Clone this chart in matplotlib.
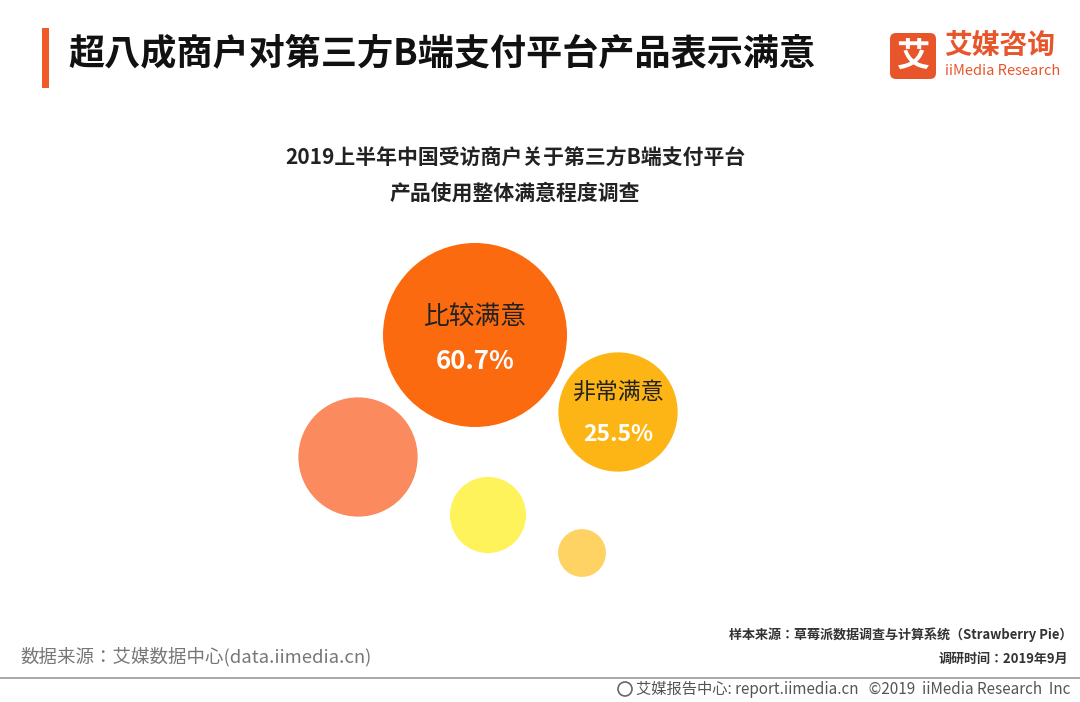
import matplotlib.pyplot as plt
from matplotlib.patches import Circle, FancyBboxPatch, Rectangle
import matplotlib.font_manager as fm
import numpy as np

cjk = [f.name for f in fm.fontManager.ttflist if 'CJK' in f.name]
plt.rcParams['font.family'] = 'sans-serif'
plt.rcParams['font.sans-serif'] = ['Noto Sans CJK SC', 'Noto Sans CJK JP'] + cjk + ['DejaVu Sans']

# 数据
labels = ['比较满意', '非常满意', '', '', '']
values = [60.7, 25.5, 25.5, 10.4, 4.1]
show_value = [True, True, False, False, False]
colors = ['#FB6A0E', '#FDB515', '#FB8A5E', '#FFF35C', '#FFD264']
centers = [(475, 335), (618, 412), (358, 457), (488, 515), (582, 553)]

title = '超八成商户对第三方B端支付平台产品表示满意'
subtitle = ['2019上半年中国受访商户关于第三方B端支付平台', '产品使用整体满意程度调查']

fig = plt.figure(figsize=(10.8, 7.02), dpi=100)
ax = fig.add_axes([0, 0, 1, 1])
ax.set_xlim(0, 1080)
ax.set_ylim(702, 0)
ax.axis('off')

# 气泡：面积与数值成比例
scale = 92 / np.sqrt(values[0])
for lab, v, show, c, (cx, cy) in zip(labels, values, show_value, colors, centers):
    r = scale * np.sqrt(v)
    ax.add_patch(Circle((cx, cy), r, color=c, lw=0))
    if show:
        big = v > 50
        fs = 18.5 if big else 16.5
        up, down = (0.2, 0.29) if big else (0.33, 0.38)
        ax.text(cx, cy - r * up, lab, ha='center', va='center', color='#222222', fontsize=fs)
        ax.text(cx, cy + r * down, '%.1f%%' % v, ha='center', va='center', color='white',
                fontsize=fs, fontweight='bold')

# 标题
ax.add_patch(Rectangle((42, 28), 7, 60, color='#F05A28', lw=0))
ax.text(68, 54, title, fontsize=26, fontweight='bold', va='center', color='#111111')
for i, s in enumerate(subtitle):
    ax.text(515, 158 + 35 * i, s, fontsize=15, fontweight='bold', ha='center', va='center', color='#222222')

# logo
ax.add_patch(FancyBboxPatch((890, 33), 46, 46, boxstyle='round,pad=0,rounding_size=6', color='#E8552B', lw=0))
ax.text(913, 56, '艾', fontsize=24, fontweight='bold', color='white', ha='center', va='center')
ax.text(944, 46, '艾媒咨询', fontsize=20, fontweight='bold', color='#E8552B', va='center')
ax.text(945, 71, 'iiMedia Research', fontsize=10.5, color='#E8552B', va='center')

# 底部
ax.text(20, 657, '数据来源：艾媒数据中心(data.iimedia.cn)', fontsize=13.3, color='#777777', va='center')
ax.text(1072, 635, '样本来源：草莓派数据调查与计算系统（Strawberry Pie）', fontsize=9.4, fontweight='bold',
        color='#333333', ha='right', va='center')
ax.text(1068, 659, '调研时间：2019年9月', fontsize=9.4, fontweight='bold', color='#333333', ha='right', va='center')
ax.plot([0, 1080], [678, 678], color='#999999', lw=1.2)
ax.text(1070, 689, '艾媒报告中心: report.iimedia.cn   ©2019  iiMedia Research  Inc', fontsize=11,
        color='#555555', ha='right', va='center')
ax.add_patch(Circle((625, 689), 7, fill=False, ec='#666666', lw=1.2))

fig.savefig('out.png', dpi=100)
